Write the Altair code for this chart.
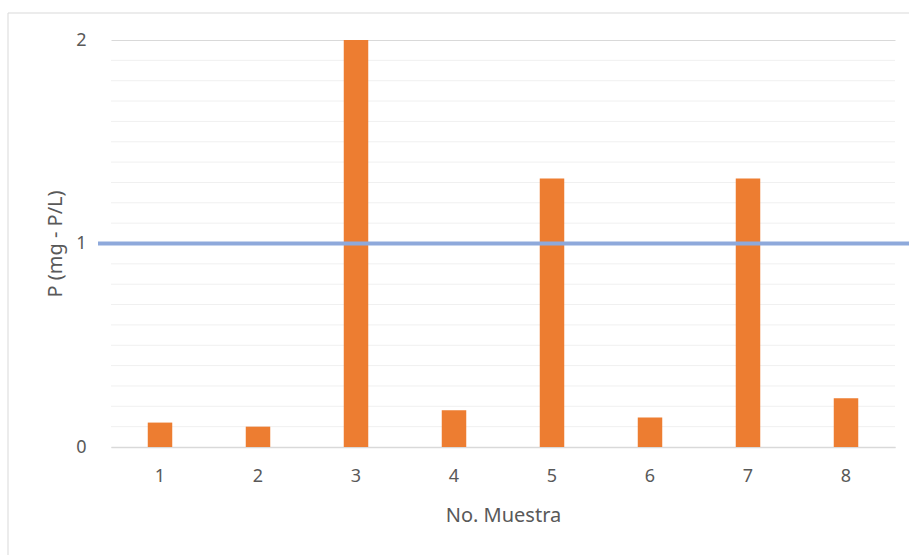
import altair as alt
import pandas as pd

muestras = ["1", "2", "3", "4", "5", "6", "7", "8"]
fosforo = [0.12, 0.10, 2.00, 0.18, 1.32, 0.145, 1.32, 0.24]
limite = [1.0]
y_major = [0, 1, 2]
y_minor = [round(i * 0.1, 1) for i in range(21) if i % 10 != 0]

df = pd.DataFrame({"muestra": muestras, "p": fosforo})
df_lim = pd.DataFrame({"lim": limite})
df_minor = pd.DataFrame({"g": y_minor})

W, H = 784, 407
FONT = "Noto Sans"
TXT = "#595959"

y_axis = alt.Axis(title="P (mg - P/L)", values=y_major, ticks=False, domain=False,
                  labelExpr="datum.value == 0 ? '0' : (datum.value == 1 ? '1' : '2')",
                  labelOverlap=False,
                  gridColor="#d9d9d9", gridWidth=1,
                  labelPadding=25, titlePadding=10,
                  labelFontSize=18, titleFontSize=20,
                  labelColor=TXT, titleColor=TXT,
                  labelFont=FONT, titleFont=FONT, titleFontWeight="normal")
y_scale = alt.Scale(domain=[0, 2], nice=False)

border = alt.Chart(alt.Data(values=[{}])).mark_rect(
    fill="transparent", stroke="#d9d9d9", strokeWidth=1, clip=False
).encode(
    x=alt.value(-103), x2=alt.value(820), y=alt.value(-27), y2=alt.value(540)
)

minor = alt.Chart(df_minor).mark_rule(color="#f0f0f0", strokeWidth=1).encode(
    y=alt.Y("g:Q", scale=y_scale, axis=y_axis), x=alt.value(0), x2=alt.value(W)
)

bars = alt.Chart(df).mark_bar(color="#ED7D31").encode(
    x=alt.X("muestra:N", sort=muestras,
            scale=alt.Scale(paddingInner=0.75, paddingOuter=0.375),
            axis=alt.Axis(title="No. Muestra", labelAngle=0, ticks=False,
                          domainColor="#d9d9d9", domainWidth=1.5,
                          labelPadding=20, titlePadding=20,
                          labelFontSize=18, titleFontSize=20,
                          labelColor=TXT, titleColor=TXT,
                          labelFont=FONT, titleFont=FONT, titleFontWeight="normal")),
    y=alt.Y("p:Q", scale=y_scale, axis=y_axis),
)

rule = alt.Chart(df_lim).mark_rule(color="#8EA9DB", strokeWidth=4, clip=False).encode(
    y=alt.Y("lim:Q", scale=y_scale, axis=y_axis), x=alt.value(-13), x2=alt.value(800)
)

chart = alt.layer(border, minor, bars, rule).properties(
    width=W, height=H,
    autosize=alt.AutoSizeParams(type="none"),
    padding={"left": 111, "top": 40, "right": 14, "bottom": 108},
    background="white",
).configure_view(stroke=None)

chart.save("out.html", embed_options={"renderer": "svg", "actions": False})
